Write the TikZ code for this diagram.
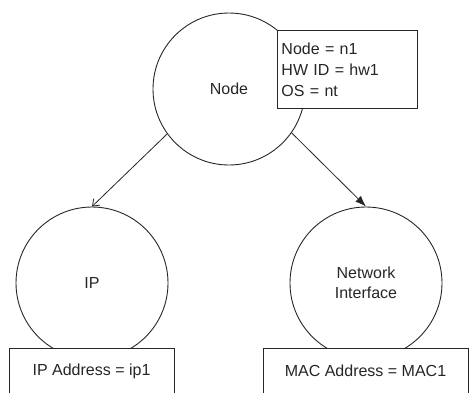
\documentclass[tikz,border=0pt]{standalone}
\usepackage{fontspec}
\setmainfont{Liberation Sans}
\usetikzlibrary{arrows.meta}
\begin{document}
\begin{tikzpicture}[x=1pt,y=-1pt,
  every node/.style={font=\fontsize{16}{21}\selectfont, text=black!85},
  ent/.style={circle, draw=black!85, line width=0.9pt, minimum size=152pt, inner sep=0pt, align=center},
  attr/.style={rectangle, draw=black!85, line width=0.9pt, fill=white, inner sep=0pt},
  conn/.style={draw=black!85, line width=0.8pt}]
\useasboundingbox (0,0) rectangle (469,392);
\clip (0,0) rectangle (469,392);
\node[ent] (node) at (229,89) {Node};
\node[ent] (ip) at (92,283) {IP};
\node[ent] (ni) at (366,283) {Network\\[-1pt]Interface};
\node[attr, anchor=north west, minimum width=140pt, minimum height=78pt, text width=132pt, align=left, inner xsep=4pt] (info) at (277,30) {Node = n1\\HW ID = hw1\\OS = nt};
\node[attr, minimum width=165pt, minimum height=46pt] (ipbox) at (91.5,371) {IP Address = ip1};
\node[attr, minimum width=205pt, minimum height=46pt] (nibox) at (365.5,371) {MAC Address = MAC1};
\draw[conn, -{Straight Barb[length=6pt,width=9pt]}] (node.216) -- (ip.north);
\draw[conn, -{Latex[length=11pt,width=8pt]}] (node.325) -- (ni.north);
\end{tikzpicture}
\end{document}
